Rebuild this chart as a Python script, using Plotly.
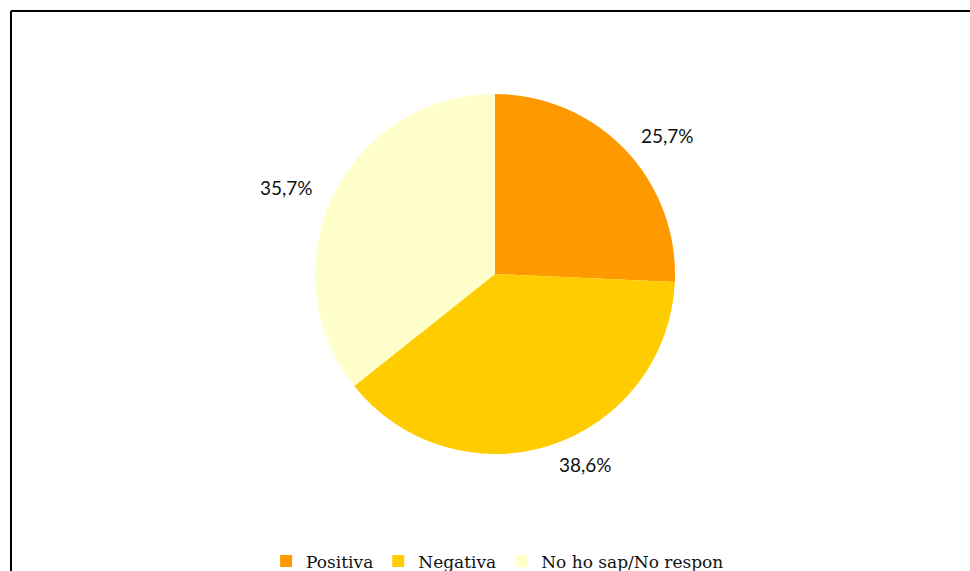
import math
import plotly.graph_objects as go

categories = ["Positiva", "Negativa", "No ho sap/No respon"]
values = [25.7, 38.6, 35.7]
label_texts = ["25,7%", "38,6%", "35,7%"]
colors = ["#FF9900", "#FFCC00", "#FFFFCC"]

W, H = 970, 571
cx, cy, r = 495, 274, 180

fig = go.Figure(go.Pie(
    labels=categories,
    values=values,
    sort=False,
    direction="clockwise",
    rotation=0,
    marker=dict(colors=colors, line=dict(width=0)),
    textinfo="none",
    hoverinfo="label+percent",
    domain=dict(x=[(cx - r) / W, (cx + r) / W], y=[1 - (cy + r) / H, 1 - (cy - r) / H]),
))

# percentage labels placed outside each slice, from data
total = sum(values)
cum = 0
annotations = []
for v, t in zip(values, label_texts):
    mid = (cum + v / 2) / total * 2 * math.pi
    cum += v
    d = 200
    s, c = math.sin(mid), math.cos(mid)
    x = cx + d * s
    y = cy - d * c
    annotations.append(dict(x=x / W, y=1 - y / H, xref="paper", yref="paper",
                            xanchor="left" if s > 0 else "right", yanchor="middle",
                            text=t, showarrow=False,
                            font=dict(family="Lato, Open Sans, sans-serif", size=19, color="#111")))

fig.update_layout(
    width=W, height=H,
    margin=dict(l=0, r=0, t=0, b=0, autoexpand=False),
    paper_bgcolor="white",
    plot_bgcolor="white",
    annotations=annotations,
    showlegend=True,
    legend=dict(orientation="h", x=0.513, xanchor="center", y=-0.015, yanchor="bottom",
                font=dict(family="DejaVu Serif, serif", size=17, color="#111"),
                itemwidth=30, traceorder="normal"),
    shapes=[dict(type="line", xref="paper", yref="paper", x0=11 / W, x1=1.01, y0=1 - 11 / H, y1=1 - 11 / H,
                 line=dict(color="black", width=2)),
            dict(type="line", xref="paper", yref="paper", x0=11 / W, x1=11 / W, y0=1 - 11 / H, y1=-0.05,
                 line=dict(color="black", width=2))],
)

fig.write_html("out.html")
